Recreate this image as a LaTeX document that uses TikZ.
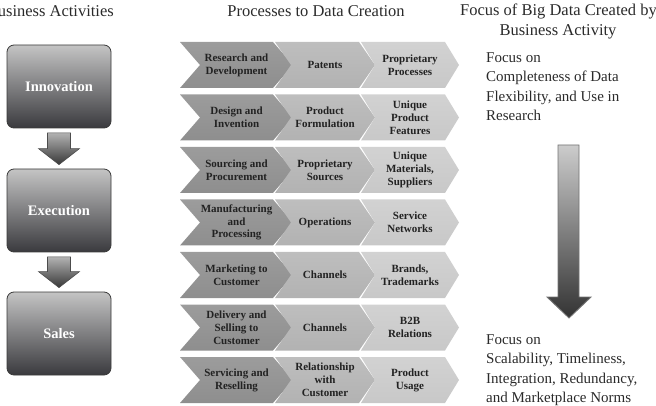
\documentclass[tikz,border=0pt]{standalone}
\usepackage{fontspec}
\setmainfont{Liberation Serif}
\usetikzlibrary{calc}
\definecolor{boxtop}{HTML}{C4C4C4}
\definecolor{boxbot}{HTML}{3A3A3E}
\definecolor{boxline}{HTML}{3A3A3A}
\definecolor{chevA}{HTML}{8E8E8E}
\definecolor{chevAt}{HTML}{9C9C9C}
\definecolor{chevB}{HTML}{B2B2B2}
\definecolor{chevBt}{HTML}{BEBEBE}
\definecolor{chevC}{HTML}{C8C8C8}
\definecolor{chevCt}{HTML}{D2D2D2}
\definecolor{chevtxt}{HTML}{222222}
\definecolor{headtxt}{HTML}{2A2A2A}
\tikzset{
  actbox/.style={draw=boxline, line width=0.8pt, rounded corners=7pt,
    top color=boxtop, bottom color=boxbot, minimum width=104pt, minimum height=83pt,
    text=white, font=\fontsize{14.5}{17}\selectfont\bfseries},
  blockarr/.style={draw=black!70, line width=0.6pt, top color=black!30, bottom color=black!78},
  bigarr/.style={draw=black!55, line width=0.9pt, top color=black!20, bottom color=black!80},
  colA/.style={top color=chevAt, bottom color=chevA},
  colB/.style={top color=chevBt, bottom color=chevB},
  colC/.style={top color=chevCt, bottom color=chevC},
  chevtext/.style={align=center, text=chevtxt, inner sep=0pt,
    font=\fontsize{11}{12.8}\selectfont\bfseries},
  heading/.style={text=headtxt, align=center, inner sep=0pt,
    font=\fontsize{16.5}{21}\selectfont},
  focustext/.style={text=headtxt, align=left, anchor=north west, inner sep=0pt,
    font=\fontsize{15}{19.5}\selectfont}
}
% #1 name, #2 L, #3 R, #4 depth, #5 centre y, #6 style, #7 text
\newcommand\chevronbox[7]{%
  \path[#6] (#2,#5-23) -- (#3,#5-23) -- (#3+#4,#5) -- (#3,#5+23) -- (#2,#5+23) -- (#2+#4,#5) -- cycle;
  \node[chevtext] (#1) at ({(#2+#3+#4)/2},#5) {#7};
}
\newcommand\chevronrow[5]{% #1 row id, #2 y, #3 #4 #5 texts
  \chevronbox{#1a}{180}{273}{20}{#2}{colA}{#3}
  \chevronbox{#1b}{275}{359}{16}{#2}{colB}{#4}
  \chevronbox{#1c}{361}{445}{14}{#2}{colC}{#5}
}
\newcommand\downarrowbetween[2]{%
  \path[blockarr] ($(#1.south)+(-11.5,4.5)$) -- ($(#2.north)+(-11.5,-20)$) -- ($(#2.north)+(-20.5,-20)$)
    -- ($(#2.north)+(0,-4)$) -- ($(#2.north)+(20.5,-20)$) -- ($(#2.north)+(11.5,-20)$)
    -- ($(#1.south)+(11.5,4.5)$) -- cycle;
}
\begin{document}
\begin{tikzpicture}[x=1pt,y=-1pt]
\useasboundingbox (0,0) rectangle (656,406);
% headings
\node[heading, anchor=east] (h1) at (114,11) {Business Activities};
\node[heading] (h2) at (316,11) {Processes to Data Creation};
\node[heading, anchor=west] (h3a) at (460,11) {Focus of Big Data Created by};
\node[heading] (h3b) at (558,32) {Business Activity};
% activity boxes
\node[actbox] (inno) at (59,86.5) {Innovation};
\node[actbox] (exec) at (59,210.5) {Execution};
\node[actbox] (sales) at (59,333.5) {Sales};
\downarrowbetween{inno}{exec}
\downarrowbetween{exec}{sales}
% chevrons
\chevronrow{r1}{65}{Research and\\Development}{Patents}{Proprietary\\Processes}
\chevronrow{r2}{117.5}{Design and\\Invention}{Product\\Formulation}{Unique\\Product\\Features}
\chevronrow{r3}{170}{Sourcing and\\Procurement}{Proprietary\\Sources}{Unique\\Materials,\\Suppliers}
\chevronrow{r4}{222.5}{Manufacturing\\and\\Processing}{Operations}{Service\\Networks}
\chevronrow{r5}{275}{Marketing to\\Customer}{Channels}{Brands,\\Trademarks}
\chevronrow{r6}{327.5}{Delivery and\\Selling to\\Customer}{Channels}{B2B\\Relations}
\chevronrow{r7}{380}{Servicing and\\Reselling}{Relationship\\with\\Customer}{Product\\Usage}
% focus texts
\node[focustext] (ftop) at (486,52) {Focus on\\Completeness of Data\\Flexibility, and Use in\\Research};
\node[focustext] (fbot) at (486,334) {Focus on\\Scalability, Timeliness,\\Integration, Redundancy,\\and Marketplace Norms};
% big arrow
\path[bigarr] (558,145) -- (579,145) -- (579,297) -- (591,297) -- (569,318) -- (547,297) -- (558,297) -- cycle;
\end{tikzpicture}
\end{document}
